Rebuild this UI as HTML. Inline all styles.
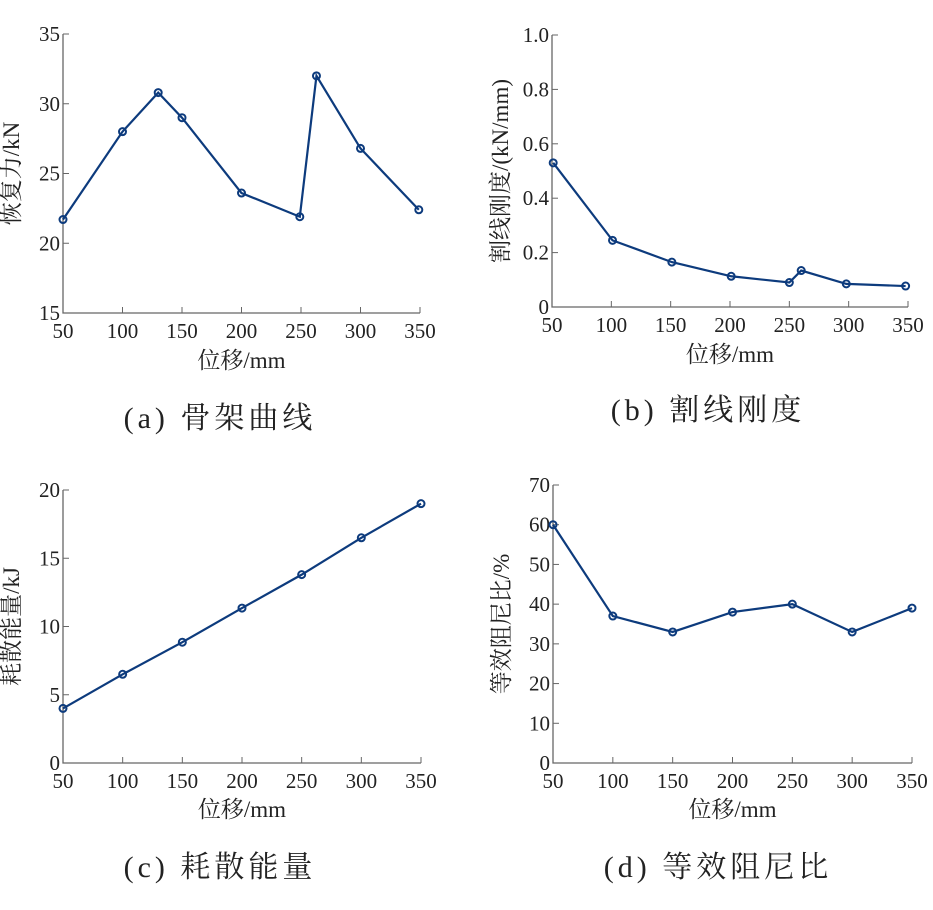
<!DOCTYPE html>
<html><head><meta charset="utf-8"><style>
body{margin:0;background:#fff}
svg text{font-family:"Liberation Serif","Noto Serif CJK SC",serif;fill:#222}
</style></head><body>
<svg id="s" width="933" height="905" xmlns="http://www.w3.org/2000/svg"></svg>
<script>
const xTicks=[50,100,150,200,250,300,350];
const aX=[50,100,130,150,200,249,263,300,349];
const aY=[21.7,28,30.8,29,23.6,21.9,32,26.8,22.4];
const aYTicks=[15,20,25,30,35];
const bX=[51,101,151,201,250,260,298,348];
const bY=[0.53,0.245,0.165,0.113,0.09,0.134,0.085,0.077];
const bYTicks=[0,0.2,0.4,0.6,0.8,1.0];
const bYLabels=["0","0.2","0.4","0.6","0.8","1.0"];
const cX=[50,100,150,200,250,300,350];
const cY=[4.0,6.5,8.85,11.35,13.8,16.5,19.0];
const cYTicks=[0,5,10,15,20];
const dX=[50,100,150,200,250,300,350];
const dY=[60,37,33,38,40,33,39];
const dYTicks=[0,10,20,30,40,50,60,70];
const svg=document.getElementById('s');
const NS='http://www.w3.org/2000/svg';
function mk(t,a,p){const e=document.createElementNS(NS,t);for(const k in a)e.setAttribute(k,a[k]);(p||svg).appendChild(e);return e;}
function panel(id,x0,x1,y0,y1,ymin,ymax,yt,ylab,xs,ys,ytitle,caption,capx,capy,xlabY){
  const g=mk('g',{});
  
  
  const sx=v=>x0+(v-50)/300*(x1-x0);
  const sy=v=>y0-(v-ymin)/(ymax-ymin)*(y0-y1);
  const ax=mk('path',{d:`M${x0} ${y1}V${y0}H${x1}`,stroke:'#666',fill:'none','stroke-width':1.3},g);
  
  
  xTicks.forEach(v=>{mk('line',{x1:sx(v),x2:sx(v),y1:y0,y2:y0-6,stroke:'#666'},g);
    const t=mk('text',{x:sx(v),y:y0+25,'font-size':21,'text-anchor':'middle'},g);t.textContent=v;
    });
  yt.forEach((v,i)=>{mk('line',{x1:x0,x2:x0+6,y1:sy(v),y2:sy(v),stroke:'#666'},g);
    const t=mk('text',{x:x0-3,y:sy(v)+7,'font-size':21,'text-anchor':'end'},g);t.textContent=ylab?ylab[i]:v;
    });
  const pl=mk('polyline',{points:xs.map((v,i)=>sx(v)+','+sy(ys[i])).join(' '),fill:'none',stroke:'#0d3b7d','stroke-width':2.2},g);
  
  xs.forEach((v,i)=>{const c=mk('circle',{cx:sx(v),cy:sy(ys[i]),r:3.5,fill:'none',stroke:'#0d3b7d','stroke-width':2},g);
    });
  const xl=mk('text',{x:(x0+x1)/2,y:xlabY,'font-size':23,'text-anchor':'middle'},g);xl.textContent='位移/mm';
  
  const yc=(y0+y1)/2;
  const yl=mk('text',{x:x0-44,y:yc,'font-size':23,'text-anchor':'middle',transform:`rotate(-90 ${x0-44} ${yc})`},g);yl.textContent=ytitle;
  
  const cp=mk('text',{x:capx,y:capy,'font-size':30,'text-anchor':'middle','letter-spacing':4},g);cp.textContent=caption;
  
}
panel('panel-a',63,420,313,34,15,35,aYTicks,null,aX,aY,'恢复力/kN','(a) 骨架曲线',220,428,368);
panel('panel-b',552,908,307,35,0,1,bYTicks,bYLabels,bX,bY,'割线刚度/(kN/mm)','(b) 割线刚度',708,420,362);
panel('panel-c',63,421,763,490,0,20,cYTicks,null,cX,cY,'耗散能量/kJ','(c) 耗散能量',220,877,817);
panel('panel-d',553,912,763,485,0,70,dYTicks,null,dX,dY,'等效阻尼比/%','(d) 等效阻尼比',718,877,817);
</script>
</body></html>
